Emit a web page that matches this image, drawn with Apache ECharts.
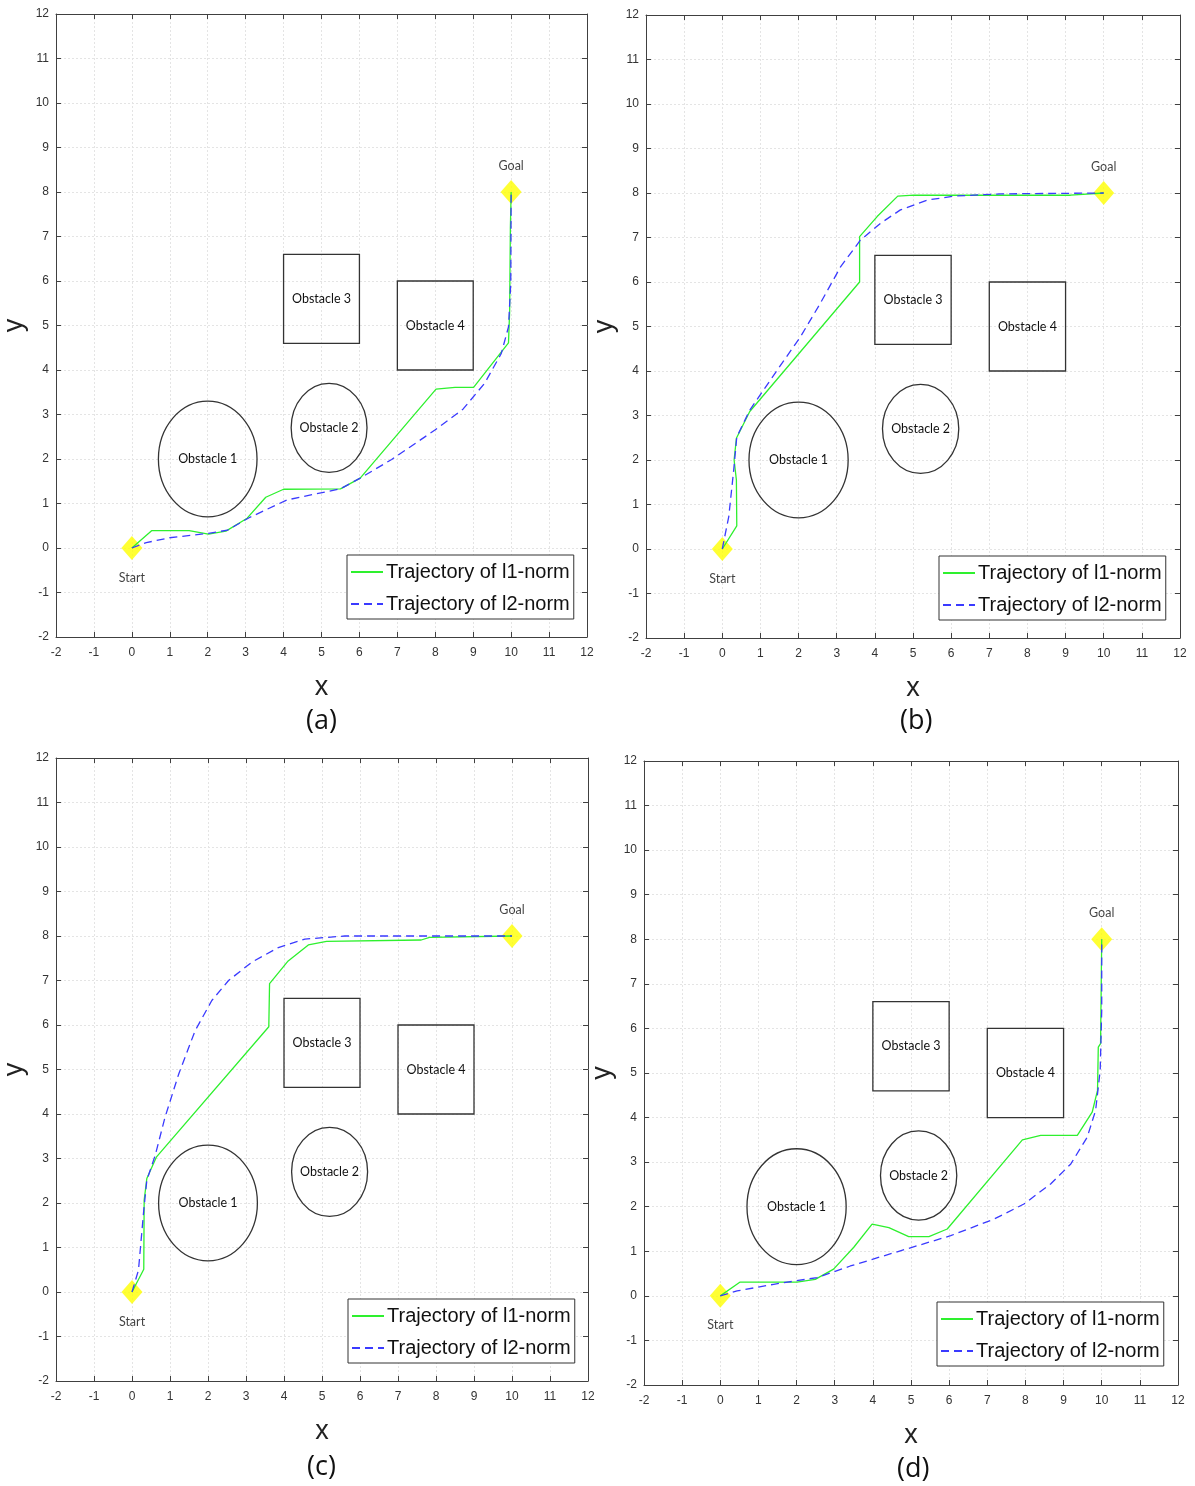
<!DOCTYPE html>
<html><head><meta charset="utf-8">
<script src="https://cdn.jsdelivr.net/npm/echarts@6/dist/echarts.min.js"></script>
<style>html,body{margin:0;padding:0;background:#fff}#c{width:1195px;height:1486px}</style>
</head><body><div id="c"></div>
<script>
// ---- data ----
const panelLabels = ['(a)', '(b)', '(c)', '(d)'];
const seriesNames = ['Trajectory of l1-norm', 'Trajectory of l2-norm'];
const startPoint = [0, 0];
const goalPoint = [10, 8];
// circles: [cx, cy, r, label]
const circleObstacles = [[2, 2, 1.3, 'Obstacle 1'], [5.2, 2.7, 1.0, 'Obstacle 2']];
// rectangles: [x1, y1, x2, y2, label]
const rectObstacles = [[4, 4.6, 6, 6.6, 'Obstacle 3'], [7, 4, 9, 6, 'Obstacle 4']];

const l1_a = [[0,0],[0.52,0.39],[1.51,0.39],[2.02,0.31],[2.48,0.38],[3.04,0.67],[3.53,1.14],[4.0,1.32],[5.5,1.33],[6.02,1.57],[8.02,3.57],[8.52,3.61],[9.01,3.61],[9.93,4.61],[9.96,5.3],[9.98,7.2],[10,8]];
const l2_a = [[0,0],[0.38,0.12],[0.99,0.23],[2.02,0.33],[2.52,0.40],[3.09,0.68],[4.09,1.08],[5.5,1.33],[6.02,1.57],[6.85,1.99],[7.99,2.65],[8.73,3.12],[9.3,3.70],[9.74,4.37],[9.93,4.97],[9.99,5.95],[10,8]];
const l1_b = [[0,0],[0.38,0.52],[0.37,1.55],[0.31,2.0],[0.37,2.49],[0.72,3.09],[3.6,6.0],[3.6,7.02],[4.06,7.47],[4.6,7.93],[5.02,7.95],[9.13,7.95],[10,8]];
const l2_b = [[0,0],[0.17,0.73],[0.30,1.78],[0.38,2.52],[0.72,3.12],[1.44,4.02],[2.05,4.77],[2.57,5.52],[3.10,6.34],[3.62,6.94],[4.15,7.32],[4.67,7.62],[5.37,7.84],[6.07,7.93],[7.3,7.98],[10,8]];
const l1_c = [[0,0],[0.31,0.51],[0.32,2.06],[0.39,2.55],[0.64,3.03],[3.6,5.96],[3.62,6.93],[4.11,7.44],[4.64,7.80],[5.12,7.88],[7.61,7.91],[7.83,7.97],[10,8]];
const l2_c = [[0,0],[0.17,0.49],[0.31,1.84],[0.39,2.51],[0.61,3.07],[0.87,3.93],[1.23,4.90],[1.66,5.87],[2.10,6.55],[2.54,7.0],[3.15,7.41],[3.85,7.74],[4.55,7.93],[5.6,8.0],[10,8]];
const l1_d = [[0,0],[0.52,0.31],[2.01,0.31],[2.49,0.37],[2.97,0.60],[3.50,1.09],[3.98,1.61],[4.42,1.53],[4.94,1.33],[5.47,1.33],[5.95,1.50],[7.92,3.50],[8.40,3.60],[9.36,3.60],[9.75,4.12],[9.89,4.61],[9.91,5.58],[9.97,5.66],[10,8]];
const l2_d = [[0,0],[0.44,0.11],[1.4,0.26],[2.54,0.41],[3.41,0.67],[4.72,1.01],[6.04,1.35],[7.17,1.72],[7.96,2.06],[8.66,2.51],[9.19,2.96],[9.62,3.56],[9.84,4.16],[9.96,5.06],[10,6.4],[10,8]];

const l1Data = [l1_a, l1_b, l1_c, l1_d];
const l2Data = [l2_a, l2_b, l2_c, l2_d];

// ---- layout ----
const grids = [
  {left: 53, top: 14, width: 534, height: 623},
  {left: 646, top: 15, width: 534, height: 623},
  {left: 54, top: 758, width: 534, height: 623},
  {left: 644, top: 761, width: 534, height: 624}
];
const legendPos = [[347, 555], [939, 556], [348, 1299], [937, 1302]];
const labelPos = [[321, 722], [915, 722], [322, 1468], [912, 1470]];

const AXC = '#404040';
const GREEN = '#2ef02e';
const BLUE = '#3a3aff';

const xAxes = [], yAxes = [], series = [], legends = [], graphics = [];
grids.forEach((g, i) => {
  const base = {
    type: 'value', min: -2, max: 12, interval: 1, gridIndex: i,
    axisLine: {show: true, onZero: false, lineStyle: {color: AXC, width: 1}},
    axisTick: {show: true, inside: true, length: 5, lineStyle: {color: AXC}},
    splitLine: {show: false}
  };
  xAxes.push(Object.assign({}, base, {
    position: 'bottom',
    axisLabel: {color: '#333', fontSize: 12, fontFamily: 'Liberation Sans', margin: 10},
    splitLine: {show: true, lineStyle: {color: '#e4e4e4', type: [2, 2], width: 1}},
    name: 'x', nameLocation: 'middle', nameGap: 37,
    nameTextStyle: {fontSize: 27, fontFamily: 'Liberation Sans', color: '#222'}
  }));
  xAxes.push(Object.assign({}, base, {position: 'top', axisLabel: {show: false}}));
  yAxes.push(Object.assign({}, base, {
    position: 'left',
    axisLabel: {color: '#333', fontSize: 12, fontFamily: 'Liberation Sans', margin: 7},
    splitLine: {show: true, lineStyle: {color: '#e4e4e4', type: [2, 2], width: 1}},
    name: 'y', nameLocation: 'middle', nameGap: 28,
    nameTextStyle: {fontSize: 27, fontFamily: 'Liberation Sans', color: '#222'}
  }));
  yAxes.push(Object.assign({}, base, {position: 'right', axisLabel: {show: false}}));

  const xi = 2 * i, yi = 2 * i;
  // obstacles: circles
  series.push({
    type: 'custom', xAxisIndex: xi, yAxisIndex: yi, z: 1, silent: true,
    data: circleObstacles,
    encode: {x: 0, y: 1},
    renderItem: (params, api) => {
      const c = api.coord([api.value(0), api.value(1)]);
      const s = api.size([api.value(2), api.value(2)]);
      return {type: 'group', children: [
        {type: 'ellipse', shape: {cx: c[0], cy: c[1], rx: s[0], ry: s[1]},
         style: {fill: 'none', stroke: '#333', lineWidth: 1.3}},
        {type: 'text', style: {text: circleObstacles[params.dataIndex][3], x: c[0], y: c[1],
          align: 'center', verticalAlign: 'middle', font: '12.5px Lato', fill: '#111'}}
      ]};
    }
  });
  // obstacles: rectangles
  series.push({
    type: 'custom', xAxisIndex: xi, yAxisIndex: yi, z: 1, silent: true,
    data: rectObstacles,
    encode: {x: [0, 2], y: [1, 3]},
    renderItem: (params, api) => {
      const p1 = api.coord([api.value(0), api.value(3)]);
      const p2 = api.coord([api.value(2), api.value(1)]);
      return {type: 'group', children: [
        {type: 'rect', shape: {x: p1[0], y: p1[1], width: p2[0] - p1[0], height: p2[1] - p1[1]},
         style: {fill: 'none', stroke: '#333', lineWidth: 1.3}},
        {type: 'text', style: {text: rectObstacles[params.dataIndex][4], x: (p1[0] + p2[0]) / 2, y: (p1[1] + p2[1]) / 2,
          align: 'center', verticalAlign: 'middle', font: '12.5px Lato', fill: '#111'}}
      ]};
    }
  });
  // start / goal
  series.push({
    type: 'scatter', xAxisIndex: xi, yAxisIndex: yi, z: 2, silent: true,
    symbol: 'diamond', symbolSize: [21, 24],
    itemStyle: {color: '#ffff00'},
    data: [
      {value: startPoint, label: {show: true, formatter: 'Start', position: 'bottom', distance: 11}},
      {value: goalPoint, label: {show: true, formatter: 'Goal', position: 'top', distance: 8}}
    ],
    label: {fontFamily: 'Lato', fontSize: 12.5, color: '#111'}
  });
  series.push({
    name: seriesNames[0], type: 'line', xAxisIndex: xi, yAxisIndex: yi, z: 3,
    data: l1Data[i], symbol: 'none', showSymbol: false, smooth: false,
    lineStyle: {color: GREEN, width: 1.3, type: 'solid'}, itemStyle: {color: GREEN}
  });
  series.push({
    name: seriesNames[1], type: 'line', xAxisIndex: xi, yAxisIndex: yi, z: 3,
    data: l2Data[i], symbol: 'none', showSymbol: false, smooth: false,
    lineStyle: {color: BLUE, width: 1.3, type: [8, 5]}, itemStyle: {color: BLUE}
  });
  legends.push({
    data: seriesNames, orient: 'vertical', left: legendPos[i][0], top: legendPos[i][1],
    backgroundColor: '#fff', borderColor: '#333', borderWidth: 1,
    padding: [5, 4, 3, 3], itemGap: 8, itemWidth: 32, itemHeight: 14,
    selectedMode: false,
    itemStyle: {color: 'rgba(0,0,0,0)', borderWidth: 0},
    textStyle: {fontSize: 20, fontFamily: 'Liberation Sans', color: '#111', lineHeight: 24, padding: [0, 0, 0, -2]}
  });
  graphics.push({
    type: 'text', left: labelPos[i][0] - 15, top: labelPos[i][1] - 14,
    style: {text: panelLabels[i], font: '27px "Open Sans"', fill: '#111'}
  });
});

const chart = echarts.init(document.getElementById('c'), null, {renderer: 'canvas'});
chart.setOption({
  animation: false,
  backgroundColor: '#fff',
  grid: grids,
  xAxis: xAxes,
  yAxis: yAxes,
  legend: legends,
  series: series,
  graphic: graphics
});
</script></body></html>
